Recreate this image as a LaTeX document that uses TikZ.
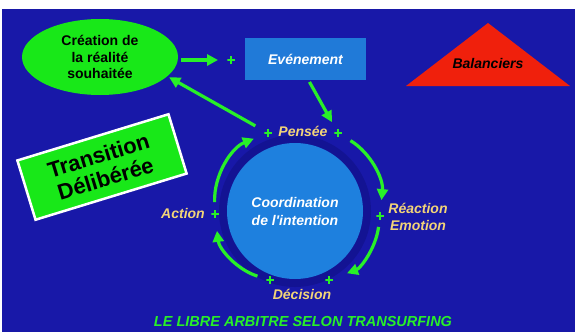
\documentclass[tikz,border=0pt]{standalone}
\usepackage{fontspec}
\setmainfont{Liberation Sans}
\usetikzlibrary{arrows.meta,shapes.geometric}

\definecolor{bgblue}{RGB}{24,24,168}
\definecolor{haze}{RGB}{12,12,110}
\definecolor{coreblue}{RGB}{30,128,222}
\definecolor{eventblue}{RGB}{32,122,216}
\definecolor{leafgreen}{RGB}{24,232,24}
\definecolor{arrowgreen}{RGB}{40,240,40}
\definecolor{warnred}{RGB}{240,32,12}
\definecolor{labelyellow}{RGB}{242,212,120}

\tikzset{
  flow/.style={draw=arrowgreen, line width=3.2pt, -{Triangle[length=11pt,width=11pt]}},
  crossmark/.style={inner sep=0pt, minimum size=7.5pt,
    path picture={\draw[arrowgreen, line width=1.7pt]
      (path picture bounding box.north) -- (path picture bounding box.south)
      (path picture bounding box.west) -- (path picture bounding box.east);}},
  lbl/.style={text=labelyellow, align=center, font=\bfseries\itshape\fontsize{14}{17}\selectfont},
}

\begin{document}
\begin{tikzpicture}[x=1pt,y=1pt]
   \useasboundingbox (0,0) rectangle (577,-332);
   \fill[bgblue] (2,-9) rectangle (575,-332);

   % top row
   \node[ellipse, fill=leafgreen, minimum width=156, minimum height=76, inner sep=0pt, align=center,
         font=\bfseries\fontsize{14}{16.5}\selectfont] (creation) at (100,-57) {Création de\\la réalité\\souhaitée};
   \node[fill=eventblue, minimum width=121, minimum height=42, text=white,
         font=\bfseries\itshape\fontsize{14}{16}\selectfont] (event) at (305.5,-59) {Evénement};
   \fill[warnred] (406,-86) -- (488,-23) -- (570,-86) -- cycle;
   \node[font=\bfseries\itshape\fontsize{14}{16}\selectfont] (balanciers) at (488,-63) {Balanciers};

   \node[draw=white, line width=2.5pt, fill=leafgreen, rotate=17, minimum width=158, minimum height=62,
         inner sep=2pt, align=center, font=\bfseries\fontsize{22}{24}\selectfont] (transition) at (102,-167)
        {Transition\\Délibérée};

   % the cycle
   \fill[haze, opacity=.35] (295,-211) circle (76);
   \node[circle, fill=coreblue, minimum size=136, inner sep=0pt, text=white, align=center,
         font=\bfseries\itshape\fontsize{14}{18}\selectfont] (core) at (295,-211)
        {Coordination\\de l\textquotesingle intention};

   \foreach \n/\x/\y in {entry/231/60, pensL/268/133, pensR/338/133, react/380/216,
                         decR/329/280, decL/270/280, act/215/214}
     \node[crossmark] (\n) at (\x,-\y) {};

   \node[lbl] (pensee) at (303,-131) {Pensée};
   \node[lbl] (reaction) at (418,-216.5) {Réaction\\Emotion};
   \node[lbl] (decision) at (302,-294) {Décision};
   \node[lbl] (action) at (183,-213) {Action};

   \draw[flow, shorten <=3pt, shorten >=9pt] ([yshift=-3pt]creation.east) -- (entry);
   \draw[flow, shorten <=2pt, shorten >=8pt] ([xshift=3pt]event.south) -- (pensR);
   \draw[flow, shorten <=10pt, shorten >=2pt] (pensL) -- (creation.-16);

   \draw[flow, shorten <=10pt, shorten >=12pt] (pensR) to[bend left=32] (react);
   \draw[flow, shorten <=7pt, shorten >=15pt] (react) to[bend left=31] (decR);
   \draw[flow, shorten <=9pt, shorten >=13pt] (decL) to[bend left=33] (act);
   \draw[flow, shorten <=8pt, shorten >=11pt] (act) to[bend left=35] (pensL);

   \node[text=arrowgreen, font=\bfseries\itshape\fontsize{14.5}{16}\selectfont] (title) at (303,-322)
        {LE LIBRE ARBITRE SELON TRANSURFING};
\end{tikzpicture}
\end{document}
